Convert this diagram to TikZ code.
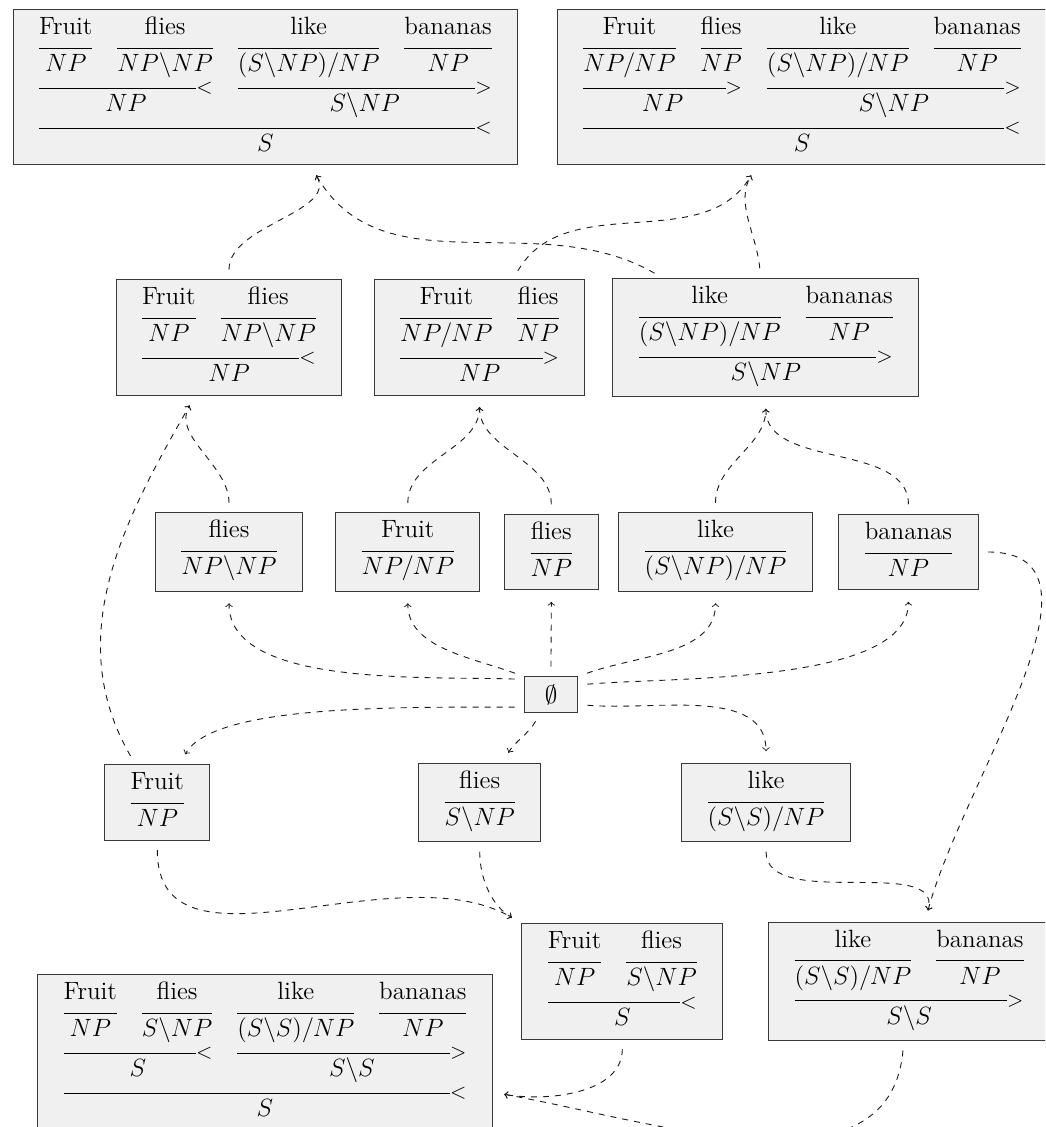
\RequirePackage{fix-cm}
\documentclass[tikz,border=0pt]{standalone}
\newcommand\wfont{\fontsize{12.5}{15}\selectfont}
\newcommand\cfont{\fontsize{12.5}{15}\selectfont}
\newcommand\sfont{\fontsize{10.5}{12}\selectfont}
\newcommand\sW{\rule{0pt}{7.6pt}}
\newcommand\sL{\rule{0pt}{7pt}}
\newcommand\sC{\rule{0pt}{11.5pt}}
\newcommand\sM{\rule{0pt}{8.5pt}}
\newcommand\sR{\rule{0pt}{11.5pt}}
\newcommand\sE{\rule[-1.65pt]{0pt}{1.65pt}}
\newcommand\keepdp[1]{\raisebox{0pt}[0pt][\depth]{#1}}
\newcommand\wrd[1]{\sW\smash{\wfont #1}}
\newcommand\lx{\sL\hrulefill}
\newcommand\ct[1]{\sC\smash{\cfont$#1$}}
\newcommand\ctE[1]{\sC\sE\keepdp{\cfont$#1$}}
\newcommand\cmb[2]{\multicolumn{#1}{c}{\sM\hrulefill\smash{\raisebox{-2.62pt}{\sfont$#2$}}}}
\newcommand\res[2]{\multicolumn{#1}{c}{\sR\smash{\cfont$#2$}}}
\newcommand\resE[2]{\multicolumn{#1}{c}{\sR\sE\keepdp{\cfont$#2$}}}
\newcommand\deriv[2]{{\renewcommand\arraystretch{0}\setlength\tabcolsep{6.25pt}\begin{tabular}{#1}#2\end{tabular}}}
\newcommand\bs{\backslash}
\tikzset{
  box/.style={draw=black!78, fill=black!6, line width=0.5pt, inner xsep=6.75pt, inner ysep=5pt, outer sep=0pt},
  conn/.style={->, dashed, draw=black!90, line width=0.45pt, shorten <=5pt, shorten >=6pt}
}
\begin{document}
\begin{tikzpicture}[x=0.5pt, y=-0.5pt]
\useasboundingbox (0,0) rectangle (1045,1127);
\clip (0,0) rectangle (1045,1127);
\fill[white] (0,0) rectangle (1045,1127);
% top row
\node[box] (t1) at (265.4,87.2) {\deriv{cccc}{
\wrd{Fruit} & \wrd{flies} & \wrd{like} & \wrd{bananas}\\
\lx & \lx & \lx & \lx\\
\ct{NP} & \ct{NP\bs NP} & \ct{(S\bs NP)/NP} & \ct{NP}\\
\cmb{2}{<} & \cmb{2}{>}\\
\res{2}{NP} & \res{2}{S\bs NP}\\
\cmb{4}{<}\\
\resE{4}{S}}\hspace{-4pt}};
\node[box] (t2) at (802,87.2) {\deriv{cccc}{
\wrd{Fruit} & \wrd{flies} & \wrd{like} & \wrd{bananas}\\
\lx & \lx & \lx & \lx\\
\ct{NP/NP} & \ct{NP} & \ct{(S\bs NP)/NP} & \ct{NP}\\
\cmb{2}{>} & \cmb{2}{>}\\
\res{2}{NP} & \res{2}{S\bs NP}\\
\cmb{4}{<}\\
\resE{4}{S}}\hspace{-4pt}};
% second row
\node[box] (a1) at (229,337.3) {\deriv{cc}{
\wrd{Fruit} & \wrd{flies}\\
\lx & \lx\\
\ct{NP} & \ct{NP\bs NP}\\
\cmb{2}{<}\\
\resE{2}{NP}}};
\node[box] (a2) at (479.5,337.3) {\deriv{cc}{
\wrd{Fruit} & \wrd{flies}\\
\lx & \lx\\
\ct{NP/NP} & \ct{NP}\\
\cmb{2}{>}\\
\resE{2}{NP}}};
\node[box] (a3) at (765.8,337.5) {\deriv{cc}{
\wrd{like} & \wrd{bananas}\\
\lx & \lx\\
\ct{(S\bs NP)/NP} & \ct{NP}\\
\cmb{2}{>}\\
\resE{2}{S\bs NP}}};
% lexical row
\node[box] (b1) at (229,552) {\deriv{c}{\wrd{flies}\\ \lx\\ \ctE{NP\bs NP}}};
\node[box] (b2) at (407.8,552) {\deriv{c}{\wrd{Fruit}\\ \lx\\ \ctE{NP/NP}}};
\node[box] (b3) at (551.3,552) {\deriv{c}{\wrd{flies}\\ \lx\\ \ctE{NP}}};
\node[box] (b4) at (715.5,552) {\deriv{c}{\wrd{like}\\ \lx\\ \ctE{(S\bs NP)/NP}}};
\node[box] (b5) at (908.4,552) {\deriv{c}{\wrd{bananas}\\ \lx\\ \ctE{NP}}};
% empty
\node[box, inner sep=0pt, minimum width=26.5pt, minimum height=18pt] (emp) at (551,694.7) {\cfont$\emptyset$};
% lower lexical row
\node[box] (c1) at (157.3,802.4) {\deriv{c}{\wrd{Fruit}\\ \lx\\ \ctE{NP}}};
\node[box] (c2) at (479.7,802.4) {\deriv{c}{\wrd{flies}\\ \lx\\ \ctE{S\bs NP}}};
\node[box] (c3) at (766,802.4) {\deriv{c}{\wrd{like}\\ \lx\\ \ctE{(S\bs S)/NP}}};
% lower derivations
\node[box] (d1) at (622.3,981.3) {\deriv{cc}{
\wrd{Fruit} & \wrd{flies}\\
\lx & \lx\\
\ct{NP} & \ct{S\bs NP}\\
\cmb{2}{<}\\
\resE{2}{S}}};
\node[box] (d2) at (909,981.3) {\deriv{cc}{
\wrd{like} & \wrd{bananas}\\
\lx & \lx\\
\ct{(S\bs S)/NP} & \ct{NP}\\
\cmb{2}{>}\\
\resE{2}{S\bs S}}};
\node[box] (e1) at (265,1052.2) {\deriv{cccc}{
\wrd{Fruit} & \wrd{flies} & \wrd{like} & \wrd{bananas}\\
\lx & \lx & \lx & \lx\\
\ct{NP} & \ct{S\bs NP} & \ct{(S\bs S)/NP} & \ct{NP}\\
\cmb{2}{<} & \cmb{2}{>}\\
\res{2}{S} & \res{2}{S\bs S}\\
\cmb{4}{<}\\
\resE{4}{S}}\hspace{-4pt}};
% connectors
\draw[conn] (a1) to[out=90,in=-60] (t1);
\draw[conn] (a3) to[out=150,in=-60] (t1);
\draw[conn] (a2) to[out=60,in=-120] (t2);
\draw[conn] (a3) to[out=95,in=-120] (t2);
\draw[conn] (b1) to[out=90,in=-120] (a1);
\draw[conn] (c1) to[out=120,in=-120] (a1);
\draw[conn] (b2) to[out=90,in=-90] (a2);
\draw[conn] (b3) to[out=90,in=-90] (a2);
\draw[conn] (b4) to[out=90,in=-90] (a3);
\draw[conn] (b5) to[out=90,in=-90] (a3);
\draw[conn] (emp.150) to[out=178,in=-90,looseness=0.8] (b1);
\draw[conn] (emp.north west) to[out=160,in=-90] (b2);
\draw[conn] (emp) to[out=90,in=-90] (b3);
\draw[conn] (emp.north east) to[out=20,in=-90] (b4);
\draw[conn] (emp.20) to[out=5,in=-90,looseness=0.7] (b5);
\draw[conn] (emp.205) to[out=180,in=60,in looseness=0.5] (c1);
\draw[conn] (emp) to[out=-120,in=60] (c2);
\draw[conn] (emp.-20) to[out=-5,in=90] (c3);
\draw[conn] (c1) to[out=-90,in=150] (d1);
\draw[conn] (c2) to[out=-90,in=150] (d1);
\draw[conn] (c3) to[out=-90,in=75] (d2);
\draw[conn] (b5) to[out=0,in=75] (d2);
\draw[conn] (d1) to[out=-90,in=-10] (e1);
\draw[conn] (d2) to[out=-95,in=-10] (e1);
\end{tikzpicture}
\end{document}
